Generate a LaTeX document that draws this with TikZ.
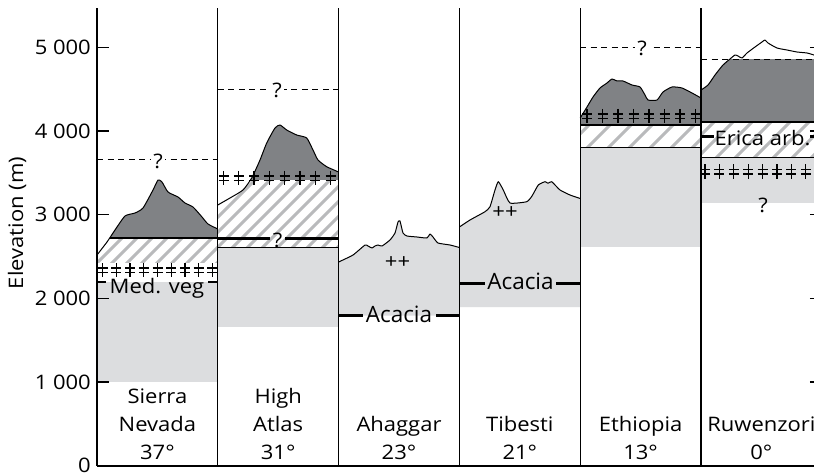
\documentclass[tikz,border=0pt]{standalone}
\usepackage{fontspec}
\setmainfont{Open Sans}
\newfontfamily\widefont[FakeStretch=1.1]{Open Sans}
\definecolor{lgray}{RGB}{220,221,223}
\definecolor{dgray}{RGB}{128,130,133}
\definecolor{hgray}{RGB}{185,186,188}
\newcommand\hatchlines[1]{\foreach \n in {0,...,100}{\draw[hl] ({-480+\n*#1},480) -- ++(480,-480);}}
\def\SNout{plot[smooth,tension=0.35] coordinates {(97,255) (107,242) (115,230) (125,216) (135,213) (143,208) (153,190) (158,180) (162,182) (168,192) (178,197) (185,203) (193,207) (202,217) (208,224) (217.8,229)}}
\def\HAout{plot[smooth,tension=0.35] coordinates {(217.8,205) (230,198) (243,190) (251.7,178) (260,160) (266.7,143) (275,128) (280,125) (286.7,130) (296.7,135) (306.7,138) (313,150) (318,160) (326.7,166.7) (338.6,172)}}
\def\AHout{plot[smooth,tension=0.3] coordinates {(338.6,262) (353,255) (365,245) (368,246) (372,248) (375,246) (378,245) (382,246) (390,240) (395,233) (398,222) (400,221) (403,233) (407,236) (417,237) (427,238) (430,234) (433,237) (438,243) (450,245) (459.4,247.5)}}
\def\TIout{plot[smooth,tension=0.3] coordinates {(459.4,227) (470,220) (485,211.7) (490,206.7) (495,190) (498.3,181.7) (503.3,190) (510,203) (526.7,201.7) (532,196) (538.3,185) (545,181.7) (548,183.3) (551.7,181.7) (560,190) (570,195) (580.2,198.5)}}
\def\ETout{plot[smooth,tension=0.35] coordinates {(580.2,118) (587,107) (593,97) (600,88) (607,83) (612,79) (617,81) (623,81) (632,85) (640,87) (645,95) (648,100) (657,100) (663,92) (672,87) (682,88) (692,93) (701,98)}}
\def\RUout{plot[smooth,tension=0.35] coordinates {(701,90) (708,85) (715,75) (723,65) (730,59) (735,55) (738,56) (742,58) (747,53) (755,47) (762,42) (765,40) (768,43) (777,48) (787,50) (797,52) (807,53) (814,55) (822,57)}}
\tikzset{dcross/.pic={\draw[line width=1.3pt] (0,-7) -- (0,7) (-5,-2) -- (5,-2) (-5,2.5) -- (5,2.5);}}
\begin{document}
\begin{tikzpicture}[x=1pt,y=-1pt,
  outl/.style={line width=1pt, line join=round},
  thk/.style={line width=2.6pt},
  thn/.style={line width=0.8pt},
  dsh/.style={line width=1pt, dash pattern=on 6pt off 4.5pt},
  hl/.style={hgray, line width=3pt},
  frame/.style={line width=1.3pt},
  txt/.style={font=\widefont\fontsize{20}{24}\selectfont, inner sep=0pt},
  lab/.style={txt, anchor=base},
  acac/.style={font=\fontsize{22.5}{27}\selectfont, inner sep=0pt, anchor=base},
  qm/.style={txt, fill=white, inner xsep=2pt, inner ysep=0pt}]
\useasboundingbox (0,0) rectangle (814,476);
\clip (0,0) rectangle (814,476);
\fill[white] (0,0) rectangle (814,476);

% ---------- Sierra Nevada ----------
\fill[lgray] (97,282) rectangle (217.8,382);
\begin{scope}
  \clip (97,238) rectangle (217.8,262);
  \clip \SNout -- (217.8,480) -- (97,480) -- cycle;
  \hatchlines{15}
\end{scope}
\begin{scope}
  \clip (97,0) rectangle (217.8,238);
  \fill[dgray] \SNout -- (217.8,480) -- (97,480) -- cycle;
\end{scope}
\begin{scope}
  \clip \SNout -- (217.8,480) -- (97,480) -- cycle;
  \draw[thk] (97,238) -- (217.8,238);
\end{scope}
\draw[outl] \SNout;
\foreach \xx in {102.7,116.4,130.1,143.8,157.5,171.2,184.9,198.6,212.3} \pic at (\xx,270) {dcross};
\draw[thk] (97,282) -- (106,282) (208,282) -- (217.8,282);
\node[lab] (medveg) at (157,293.3) {Med. veg};
\draw[dsh] (97,160) -- (217.8,160);
\node[qm] (q1) at (158,161) {?};

% ---------- High Atlas ----------
\fill[lgray] (217.8,247) rectangle (338.6,327);
\begin{scope}
  \clip (217.8,179) rectangle (338.6,247);
  \clip \HAout -- (338.6,480) -- (217.8,480) -- cycle;
  \hatchlines{15}
\end{scope}
\begin{scope}
  \clip (217.8,0) rectangle (338.6,179);
  \fill[dgray] \HAout -- (338.6,480) -- (217.8,480) -- cycle;
\end{scope}
\draw[outl] \HAout;
\foreach \xx in {223.5,238.8,254.1,269.4,284.7,300,315.3,330.6} \pic at (\xx,178) {dcross};
\draw[thn] (217.8,247) -- (338.6,247);
\draw[thk] (217.8,238.5) -- (270,238.5) (285,238.5) -- (338.6,238.5);
\node[txt] (q2) at (277.5,240) {?};
\draw[dsh] (217.8,89.3) -- (338.6,89.3);
\node[qm] (q3) at (277,90) {?};

% ---------- Ahaggar ----------
\fill[lgray] \AHout -- (459.4,315.5) -- (338.6,315.5) -- cycle;
\draw[outl] \AHout;
\node[txt] (pp1) at (397.5,263) {++};
\draw[thk] (338.6,315.5) -- (363,315.5) (436,315.5) -- (459.4,315.5);
\node[acac] (acac1) at (399,322.5) {Acacia};

% ---------- Tibesti ----------
\fill[lgray] \TIout -- (580.2,307) -- (459.4,307) -- cycle;
\draw[outl] \TIout;
\node[txt] (pp2) at (505,213) {++};
\draw[thk] (459.4,283.3) -- (485,283.3) (556,283.3) -- (580.2,283.3);
\node[acac] (acac2) at (520.5,289) {Acacia};

% ---------- Ethiopia ----------
\fill[lgray] (580.2,147) rectangle (701,247);
\begin{scope}
  \clip (580.2,125) rectangle (701,147);
  \hatchlines{21}
\end{scope}
\begin{scope}
  \clip (580.2,0) rectangle (701,125);
  \fill[dgray] \ETout -- (701,480) -- (580.2,480) -- cycle;
\end{scope}
\draw[outl] \ETout;
\foreach \xx in {587,602.5,618,633.5,649,664.5,680,695.5} \pic at (\xx,116) {dcross};
\draw[thk] (580.2,125) -- (701,125);
\draw[thn] (580.2,147) -- (701,147);
\draw[dsh] (580.2,47.5) -- (701,47.5);
\node[qm] (q4) at (642,48.5) {?};

% ---------- Ruwenzori ----------
\fill[lgray] (701,157) rectangle (822,203);
\begin{scope}
  \clip (701,122) rectangle (822,157);
  \hatchlines{19}
\end{scope}
\begin{scope}
  \clip (701,60) rectangle (822,122);
  \fill[dgray] \RUout -- (822,480) -- (701,480) -- cycle;
\end{scope}
\draw[outl] \RUout;
\draw[dsh] (701,60) -- (822,60);
\draw[thk] (701,122) -- (822,122);
\draw[thn] (701,157) -- (822,157);
\draw[thk] (701,136.7) -- (714,136.7) (810,136.7) -- (822,136.7);
\node[lab] (erica) at (762.5,146) {Erica arb.};
\foreach \xx in {705,719.4,733.8,748.2,762.6,777,791.4,805.8,820.2} \pic at (\xx,171.5) {dcross};
\node[txt] (q5) at (763,205.5) {?};

% ---------- frame and axes ----------
\foreach \xx in {97,217.8,338.6,459.4,580.2,701,821.8} \draw[frame] (\xx,8.3) -- (\xx,466);
\draw[frame] (97,466) -- (822,466);
\foreach \yy/\lbl in {382.0/1 000,298.4/2 000,214.7/3 000,131.0/4 000,47.35/5 000} {
  \draw[frame] (97,\yy) -- (109,\yy);
  \draw[frame] (809.8,\yy) -- (821.8,\yy);
  \node[txt, anchor=base east] (n\lbl) at (91,\yy+7.2) {\lbl};
}
\node[txt, anchor=base east] (nzero) at (91,472) {0};
\node[txt, rotate=90] (ylab) at (17,223) {Elevation (m)};

% ---------- column labels ----------
\node[lab] (sn1) at (157.4,403) {Sierra};
\node[lab] (sn2) at (157.4,431) {Nevada};
\node[lab] (sn3) at (157.4,459) {37°};
\node[lab] (ha1) at (278.2,403) {High};
\node[lab] (ha2) at (278.2,431) {Atlas};
\node[lab] (ha3) at (278.2,459) {31°};
\node[lab] (ah2) at (399,431) {Ahaggar};
\node[lab] (ah3) at (399,459) {23°};
\node[lab] (ti2) at (519.8,431) {Tibesti};
\node[lab] (ti3) at (519.8,459) {21°};
\node[lab] (et2) at (640.6,431) {Ethiopia};
\node[lab] (et3) at (640.6,459) {13°};
\node[lab] (ru2) at (761.4,431) {Ruwenzori};
\node[lab] (ru3) at (761.4,459) {0°};
\end{tikzpicture}
\end{document}
